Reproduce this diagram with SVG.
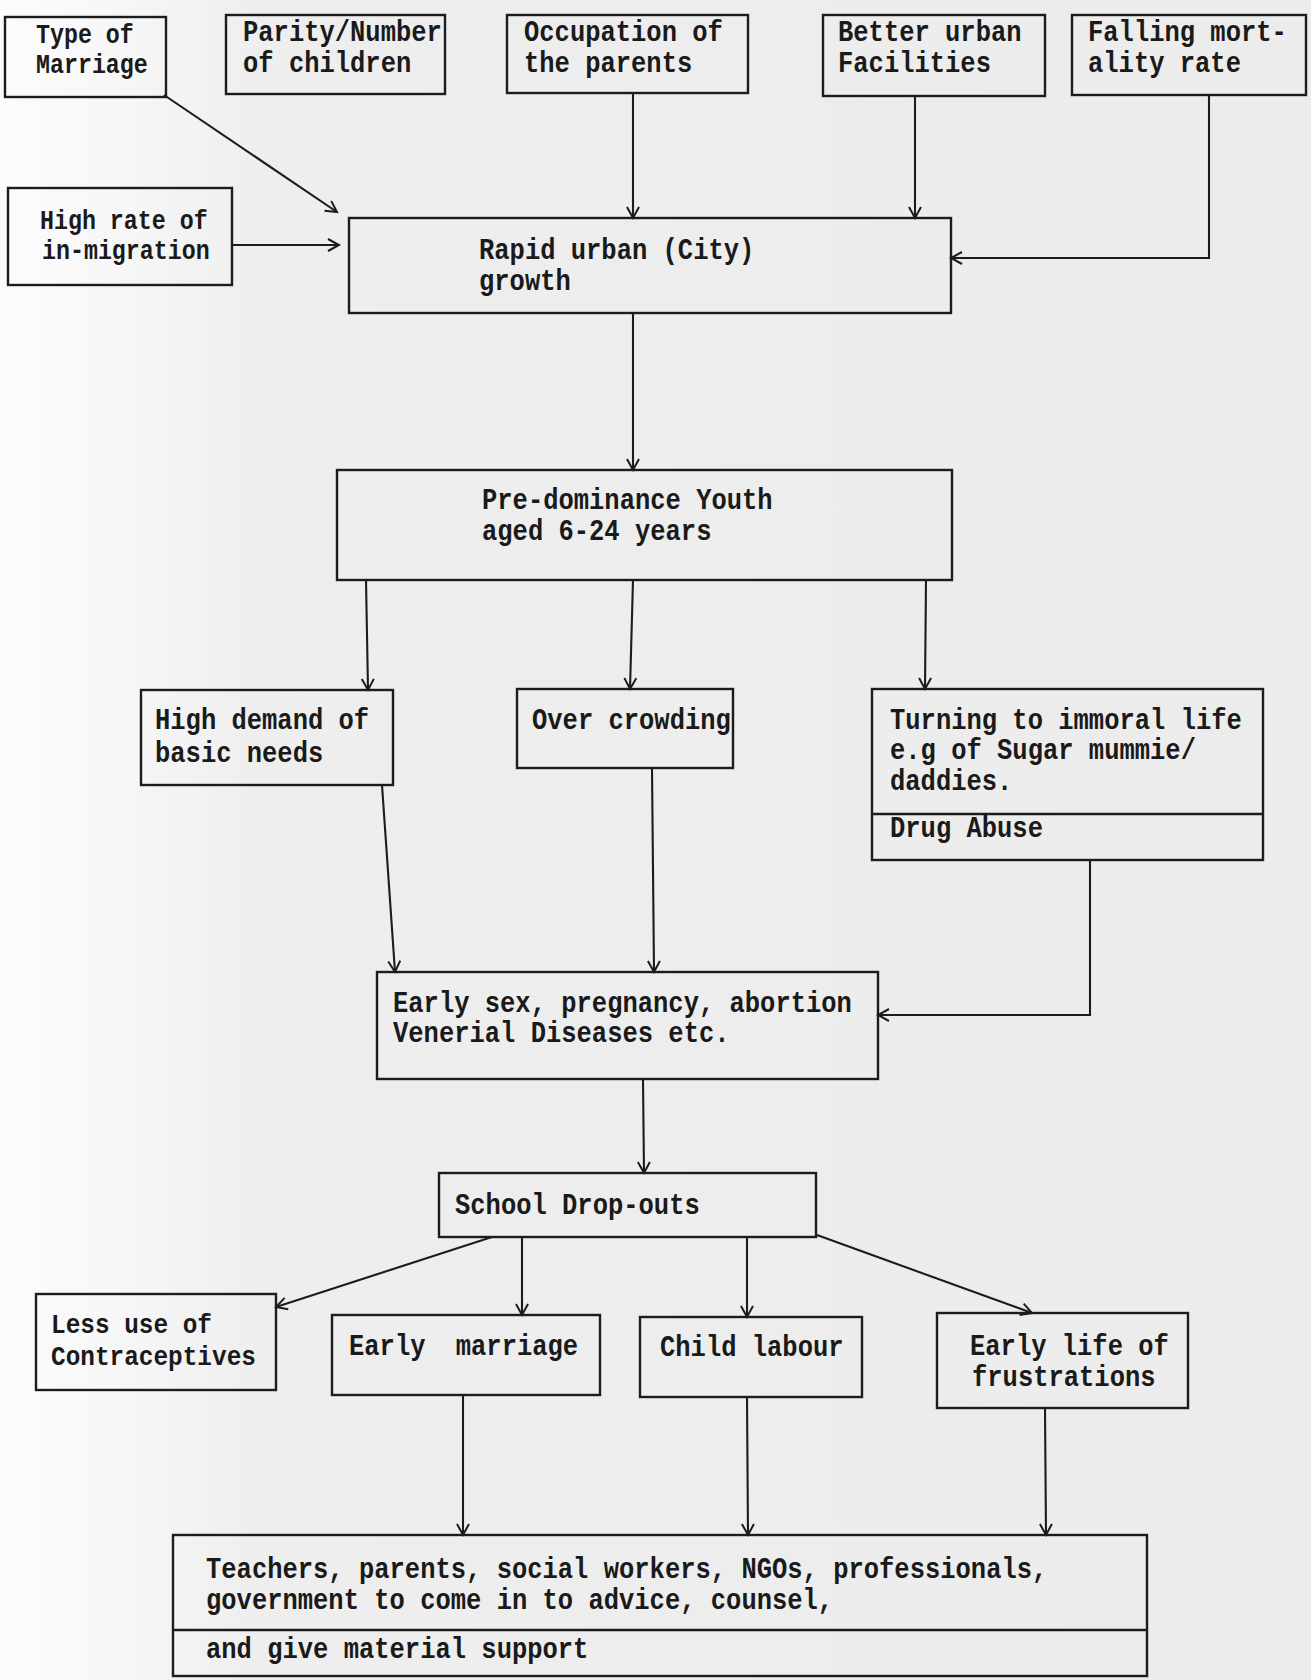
<svg xmlns="http://www.w3.org/2000/svg" width="1311" height="1680" viewBox="0 0 1311 1680">
<defs>
<linearGradient id="bg" x1="0" y1="0" x2="1" y2="0">
<stop offset="0" stop-color="#fcfcfc"/>
<stop offset="0.09" stop-color="#f7f7f7"/>
<stop offset="0.2" stop-color="#eeeeee"/>
<stop offset="1" stop-color="#ececec"/>
</linearGradient>
<marker id="arr" markerUnits="userSpaceOnUse" markerWidth="16" markerHeight="16" refX="12" refY="7" orient="auto">
<path d="M1,1 L12,7 L1,13" fill="none" stroke="#1c1c1c" stroke-width="2"/>
</marker>
<style>
.box{fill:none;stroke:#1c1c1c;stroke-width:2.4}
.t{font-family:"Liberation Mono","DejaVu Sans Mono",monospace;font-size:25.5px;font-weight:bold;fill:#1a1a1a}
.s{font-size:23.3px}
.m{font-size:24.4px}
.c{fill:none;stroke:#1c1c1c;stroke-width:2.1}
</style>
</defs>
<rect x="0" y="0" width="1311" height="1680" fill="url(#bg)"/>

<g id="connectors">
<path class="c" d="M164,95 L337,212" marker-end="url(#arr)"/>
<path class="c" d="M232,245 L339,245" marker-end="url(#arr)"/>
<path class="c" d="M633,93 L633,218" marker-end="url(#arr)"/>
<path class="c" d="M915,96 L915,218" marker-end="url(#arr)"/>
<path class="c" d="M1209,95 L1209,258 L951,258" marker-end="url(#arr)"/>
<path class="c" d="M633,313 L633,470" marker-end="url(#arr)"/>
<path class="c" d="M366,580 L368,690" marker-end="url(#arr)"/>
<path class="c" d="M633,580 L630,689" marker-end="url(#arr)"/>
<path class="c" d="M926,580 L925,689" marker-end="url(#arr)"/>
<path class="c" d="M382,785 L395,972" marker-end="url(#arr)"/>
<path class="c" d="M652,768 L654,972" marker-end="url(#arr)"/>
<path class="c" d="M1090,860 L1090,1015 L878,1015" marker-end="url(#arr)"/>
<path class="c" d="M643,1080 L644,1173" marker-end="url(#arr)"/>
<path class="c" d="M492,1237 L276,1307" marker-end="url(#arr)"/>
<path class="c" d="M522,1237 L522,1315" marker-end="url(#arr)"/>
<path class="c" d="M747,1237 L747,1317" marker-end="url(#arr)"/>
<path class="c" d="M817,1235 L1032,1313" marker-end="url(#arr)"/>
<path class="c" d="M463,1395 L463,1535" marker-end="url(#arr)"/>
<path class="c" d="M747,1397 L748,1535" marker-end="url(#arr)"/>
<path class="c" d="M1045,1408 L1046,1535" marker-end="url(#arr)"/>
</g>

<g id="type-of-marriage">
<rect class="box" x="5" y="17" width="161" height="80"/>
<text class="t s" transform="translate(36,43) scale(1,1.15)">Type of</text>
<text class="t s" transform="translate(36,73) scale(1,1.15)">Marriage</text>
</g>
<g id="parity">
<rect class="box" x="226" y="15" width="219" height="79"/>
<text class="t" transform="translate(243,41) scale(1,1.15)">Parity/Number</text>
<text class="t" transform="translate(243,72) scale(1,1.15)">of children</text>
</g>
<g id="occupation">
<rect class="box" x="507" y="15" width="241" height="78"/>
<text class="t" transform="translate(524,41) scale(1,1.15)">Occupation of</text>
<text class="t" transform="translate(524,72) scale(1,1.15)">the parents</text>
</g>
<g id="better-urban">
<rect class="box" x="823" y="15" width="222" height="81"/>
<text class="t" transform="translate(838,41) scale(1,1.15)">Better urban</text>
<text class="t" transform="translate(838,72) scale(1,1.15)">Facilities</text>
</g>
<g id="falling-mortality">
<rect class="box" x="1072" y="15" width="234" height="80"/>
<text class="t" transform="translate(1088,41) scale(1,1.15)">Falling mort-</text>
<text class="t" transform="translate(1088,72) scale(1,1.15)">ality rate</text>
</g>
<g id="in-migration">
<rect class="box" x="8" y="188" width="224" height="97"/>
<text class="t s" transform="translate(40,229) scale(1,1.15)">High rate of</text>
<text class="t s" transform="translate(42,259) scale(1,1.15)">in-migration</text>
</g>
<g id="rapid-urban">
<rect class="box" x="349" y="218" width="602" height="95"/>
<text class="t" transform="translate(479,259) scale(1,1.15)">Rapid urban (City)</text>
<text class="t" transform="translate(479,290) scale(1,1.15)">growth</text>
</g>
<g id="predominance">
<rect class="box" x="337" y="470" width="615" height="110"/>
<text class="t" transform="translate(482,509) scale(1,1.15)">Pre-dominance Youth</text>
<text class="t" transform="translate(482,540) scale(1,1.15)">aged 6-24 years</text>
</g>
<g id="high-demand">
<rect class="box" x="141" y="690" width="252" height="95"/>
<text class="t" transform="translate(155,729) scale(1,1.15)">High demand of</text>
<text class="t" transform="translate(155,762) scale(1,1.15)">basic needs</text>
</g>
<g id="over-crowding">
<rect class="box" x="517" y="689" width="216" height="79"/>
<text class="t" transform="translate(532,729) scale(1,1.15)">Over crowding</text>
</g>
<g id="immoral-life">
<rect class="box" x="872" y="689" width="391" height="171"/>
<line class="box" x1="872" y1="814" x2="1263" y2="814"/>
<text class="t" transform="translate(890,729) scale(1,1.15)">Turning to immoral life</text>
<text class="t" transform="translate(890,759) scale(1,1.15)">e.g of Sugar mummie/</text>
<text class="t" transform="translate(890,790) scale(1,1.15)">daddies.</text>
<text class="t" transform="translate(890,837) scale(1,1.15)">Drug Abuse</text>
</g>
<g id="early-sex">
<rect class="box" x="377" y="972" width="501" height="107"/>
<text class="t" transform="translate(393,1012) scale(1,1.15)">Early sex, pregnancy, abortion</text>
<text class="t" transform="translate(393,1042) scale(1,1.15)">Venerial Diseases etc.</text>
</g>
<g id="school-dropouts">
<rect class="box" x="439" y="1173" width="377" height="64"/>
<text class="t" transform="translate(455,1214) scale(1,1.15)">School Drop-outs</text>
</g>
<g id="less-contraceptives">
<rect class="box" x="36" y="1294" width="240" height="96"/>
<text class="t m" transform="translate(51,1333) scale(1,1.15)">Less use of</text>
<text class="t m" transform="translate(51,1365) scale(1,1.15)">Contraceptives</text>
</g>
<g id="early-marriage">
<rect class="box" x="332" y="1315" width="268" height="80"/>
<text class="t" transform="translate(349,1355) scale(1,1.15)" word-spacing="15">Early marriage</text>
</g>
<g id="child-labour">
<rect class="box" x="640" y="1317" width="222" height="80"/>
<text class="t" transform="translate(660,1356) scale(1,1.15)">Child labour</text>
</g>
<g id="early-life">
<rect class="box" x="937" y="1313" width="251" height="95"/>
<text class="t" transform="translate(970,1355) scale(1,1.15)">Early life of</text>
<text class="t" transform="translate(972,1386) scale(1,1.15)">frustrations</text>
</g>
<g id="support">
<rect class="box" x="173" y="1535" width="974" height="141"/>
<line class="box" x1="173" y1="1630" x2="1147" y2="1630"/>
<text class="t" transform="translate(206,1578) scale(1,1.15)">Teachers, parents, social workers, NGOs, professionals,</text>
<text class="t" transform="translate(206,1609) scale(1,1.15)">government to come in to advice, counsel,</text>
<text class="t" transform="translate(206,1658) scale(1,1.15)">and give material support</text>
</g>
</svg>
